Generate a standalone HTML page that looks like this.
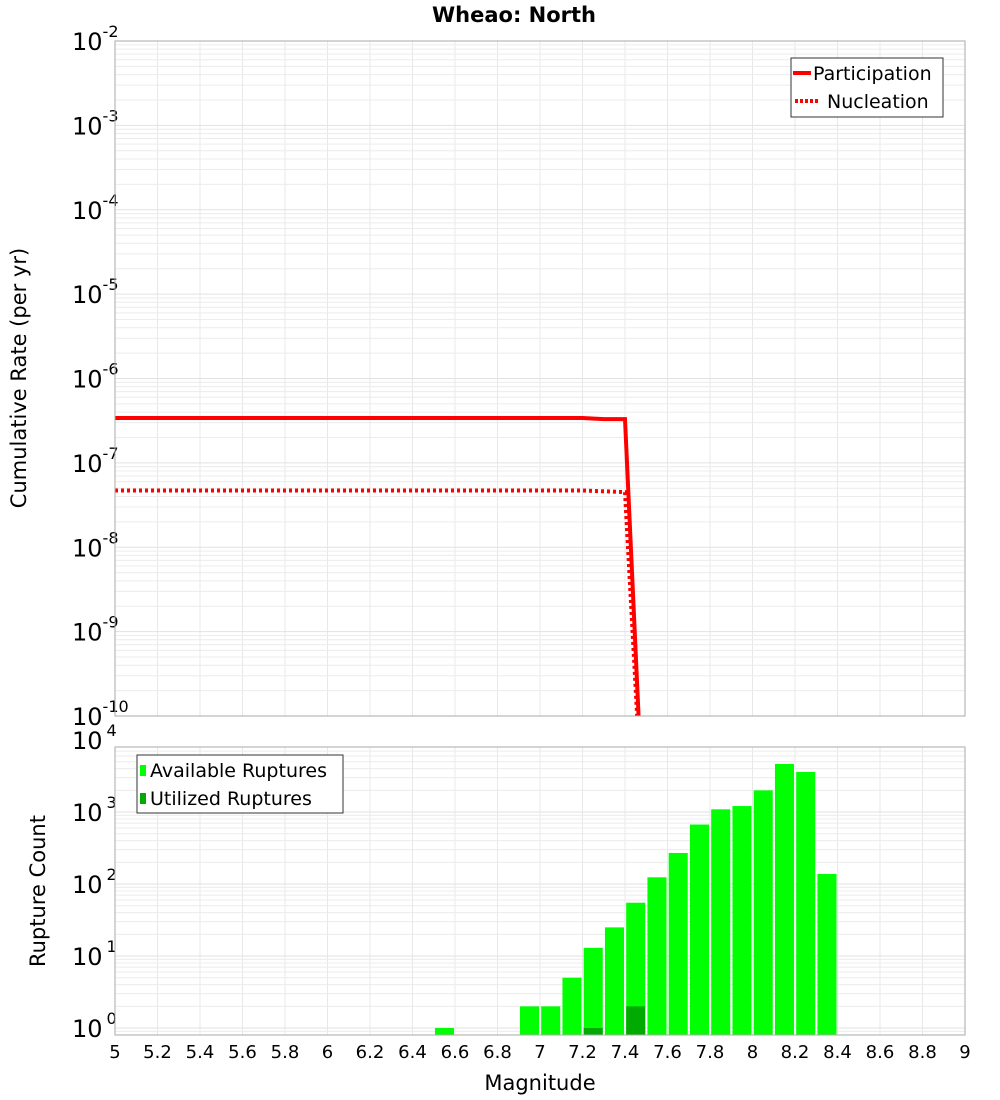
<!DOCTYPE html>
<html><head><meta charset="utf-8"><style>
body{margin:0;background:#fff;}
svg{display:block;font-family:"DejaVu Sans","Liberation Sans",sans-serif;}
</style></head><body>
<svg id="chart" width="1000" height="1100" viewBox="0 0 1000 1100" xmlns="http://www.w3.org/2000/svg">
<text x="514" y="22" text-anchor="middle" font-size="21" font-weight="bold">Wheao: North</text>
<text transform="translate(26,378) rotate(-90)" text-anchor="middle" font-size="21">Cumulative Rate (per yr)</text>
<text transform="translate(45,891) rotate(-90)" text-anchor="middle" font-size="21">Rupture Count</text>
<text x="540" y="1090" text-anchor="middle" font-size="21">Magnitude</text>
<g id="topG"></g>
<g id="botG"></g>
</svg>
<script>
const rateMags = [5.0, 7.2, 7.3, 7.4, 7.5];
const participation = [3.4e-7, 3.4e-7, 3.3e-7, 3.3e-7, 1e-12];
const nucleation = [4.7e-8, 4.7e-8, 4.6e-8, 4.5e-8, 1e-12];
const binMags = [6.55, 6.95, 7.05, 7.15, 7.25, 7.35, 7.45, 7.55, 7.65, 7.75, 7.85, 7.95, 8.05, 8.15, 8.25, 8.35];
const available = [1, 2, 2, 5, 13, 25, 55, 124, 270, 670, 1090, 1210, 2000, 4650, 3600, 138];
const utilized = [0, 0, 0, 0, 1, 0, 2, 0, 0, 0, 0, 0, 0, 0, 0, 0];
const xTicks = ["5","5.2","5.4","5.6","5.8","6","6.2","6.4","6.6","6.8","7","7.2","7.4","7.6","7.8","8","8.2","8.4","8.6","8.8","9"];
const topExp = [-2,-3,-4,-5,-6,-7,-8,-9,-10];
const botExp = [0,1,2,3,4];

const NS = "http://www.w3.org/2000/svg";
const L = 115, R = 965;
const xs = m => L + (m - 5) / 4 * (R - L);
const T1 = 41, B1 = 716;
const yTop = v => T1 + (-2 - Math.log10(v)) / 8 * (B1 - T1);
const T2 = 747, B2 = 1035, botMax = Math.log10(8000);
const yBot = v => T2 + (botMax - Math.log10(v)) / 4 * (B2 - T2);
function el(parent, tag, attrs) {
  const e = document.createElementNS(NS, tag);
  for (const k in attrs) e.setAttribute(k, attrs[k]);
  parent.appendChild(e); return e;
}
const gTop = document.getElementById('topG'), gBot = document.getElementById('botG');
const defs = el(document.getElementById('chart'), 'defs', {});
const cp = el(defs, 'clipPath', {id: 'c1'}); el(cp, 'rect', {x: L, y: T1, width: R - L, height: B1 - T1});

function grid(g, T, B, yf, lo, hi) {
  for (let i = 0; i < xTicks.length; i++) {
    const xx = xs(parseFloat(xTicks[i]));
    const ln = el(g, 'line', {x1: xx, x2: xx, y1: T, y2: B, stroke: '#e8e8e8', 'stroke-width': 1});
    
    
  }
  for (let e = lo; e <= hi; e++) for (let k = 1; k <= 9; k++) {
    const yy = yf(k * Math.pow(10, e));
    if (yy < T - 0.5 || yy > B + 0.5) continue;
    const ln = el(g, 'line', {x1: L, x2: R, y1: yy, y2: yy, stroke: k === 1 ? '#e2e2e2' : '#ececec', 'stroke-width': 1});
    
    
  }
}
grid(gTop, T1, B1, yTop, -10, -3);
grid(gBot, T2, B2, yBot, -1, 3);

topExp.forEach(e => {
  const yy = yTop(Math.pow(10, e));
  const t = el(gTop, 'text', {x: 72, y: yy + 9, 'font-size': 24});
  
  
  t.textContent = '10';
  const s = el(t, 'tspan', {dy: -13, 'font-size': 16}); s.textContent = String(e);
});
botExp.forEach(e => {
  const yy = yBot(Math.pow(10, e));
  const t = el(gBot, 'text', {x: 72, y: yy + 9, 'font-size': 24});
  
  
  t.textContent = '10';
  const s = el(t, 'tspan', {dx: 4, dy: -13, 'font-size': 16}); s.textContent = String(e);
});
xTicks.forEach(lbl => {
  const t = el(gBot, 'text', {x: xs(parseFloat(lbl)), y: 1058, 'text-anchor': 'middle', 'font-size': 18});
  
  
  t.textContent = lbl;
});

function pts(arr) { return rateMags.map((m, i) => xs(m).toFixed(1) + ',' + yTop(arr[i]).toFixed(1)).join(' '); }
const lp = el(gTop, 'polyline', {points: pts(participation), fill: 'none', stroke: '#ff0000', 'stroke-width': 4, 'clip-path': 'url(#c1)'});


const lnN = el(gTop, 'polyline', {points: pts(nucleation), fill: 'none', stroke: '#ff0000', 'stroke-width': 4, 'stroke-dasharray': '3,3', 'clip-path': 'url(#c1)'});



const bw = (R - L) / 40;
binMags.forEach((m, i) => {
  const x0 = xs(m) - bw / 2 + 1.2, w = bw - 2.2;
  if (available[i] > 0) {
    const yy = yBot(available[i]);
    const b = el(gBot, 'rect', {x: x0, y: yy, width: w, height: B2 - yy, fill: '#00ff00'});
    
    
  }
  if (utilized[i] > 0) {
    const yy = yBot(utilized[i]);
    const b = el(gBot, 'rect', {x: x0, y: yy, width: w, height: B2 - yy, fill: '#00aa00'});
    
    
  }
});

const f1 = el(gTop, 'rect', {x: L, y: T1, width: R - L, height: B1 - T1, fill: 'none', stroke: '#aaa', 'stroke-width': 1});


const f2 = el(gBot, 'rect', {x: L, y: T2, width: R - L, height: B2 - T2, fill: 'none', stroke: '#aaa', 'stroke-width': 1});



const lg1 = el(gTop, 'g', {});


el(lg1, 'rect', {x: 791, y: 58, width: 152, height: 59, fill: '#fff', stroke: '#333', 'stroke-width': 1});
el(lg1, 'line', {x1: 793, x2: 811, y1: 73, y2: 73, stroke: '#f00', 'stroke-width': 4});
el(lg1, 'line', {x1: 795, x2: 820, y1: 101, y2: 101, stroke: '#f00', 'stroke-width': 4, 'stroke-dasharray': '3,2'});
let t = el(lg1, 'text', {x: 813, y: 80, 'font-size': 19}); t.textContent = 'Participation';


t = el(lg1, 'text', {x: 827, y: 108, 'font-size': 19}); t.textContent = 'Nucleation';



const lg2 = el(gBot, 'g', {});


el(lg2, 'rect', {x: 137, y: 755, width: 206, height: 58, fill: '#fff', stroke: '#333', 'stroke-width': 1});
el(lg2, 'rect', {x: 140, y: 765, width: 6, height: 11, fill: '#00ff00'});
el(lg2, 'rect', {x: 140, y: 793, width: 6, height: 11, fill: '#00aa00'});
t = el(lg2, 'text', {x: 150, y: 777, 'font-size': 19}); t.textContent = 'Available Ruptures';


t = el(lg2, 'text', {x: 150, y: 805, 'font-size': 19}); t.textContent = 'Utilized Ruptures';


</script>
</body></html>
